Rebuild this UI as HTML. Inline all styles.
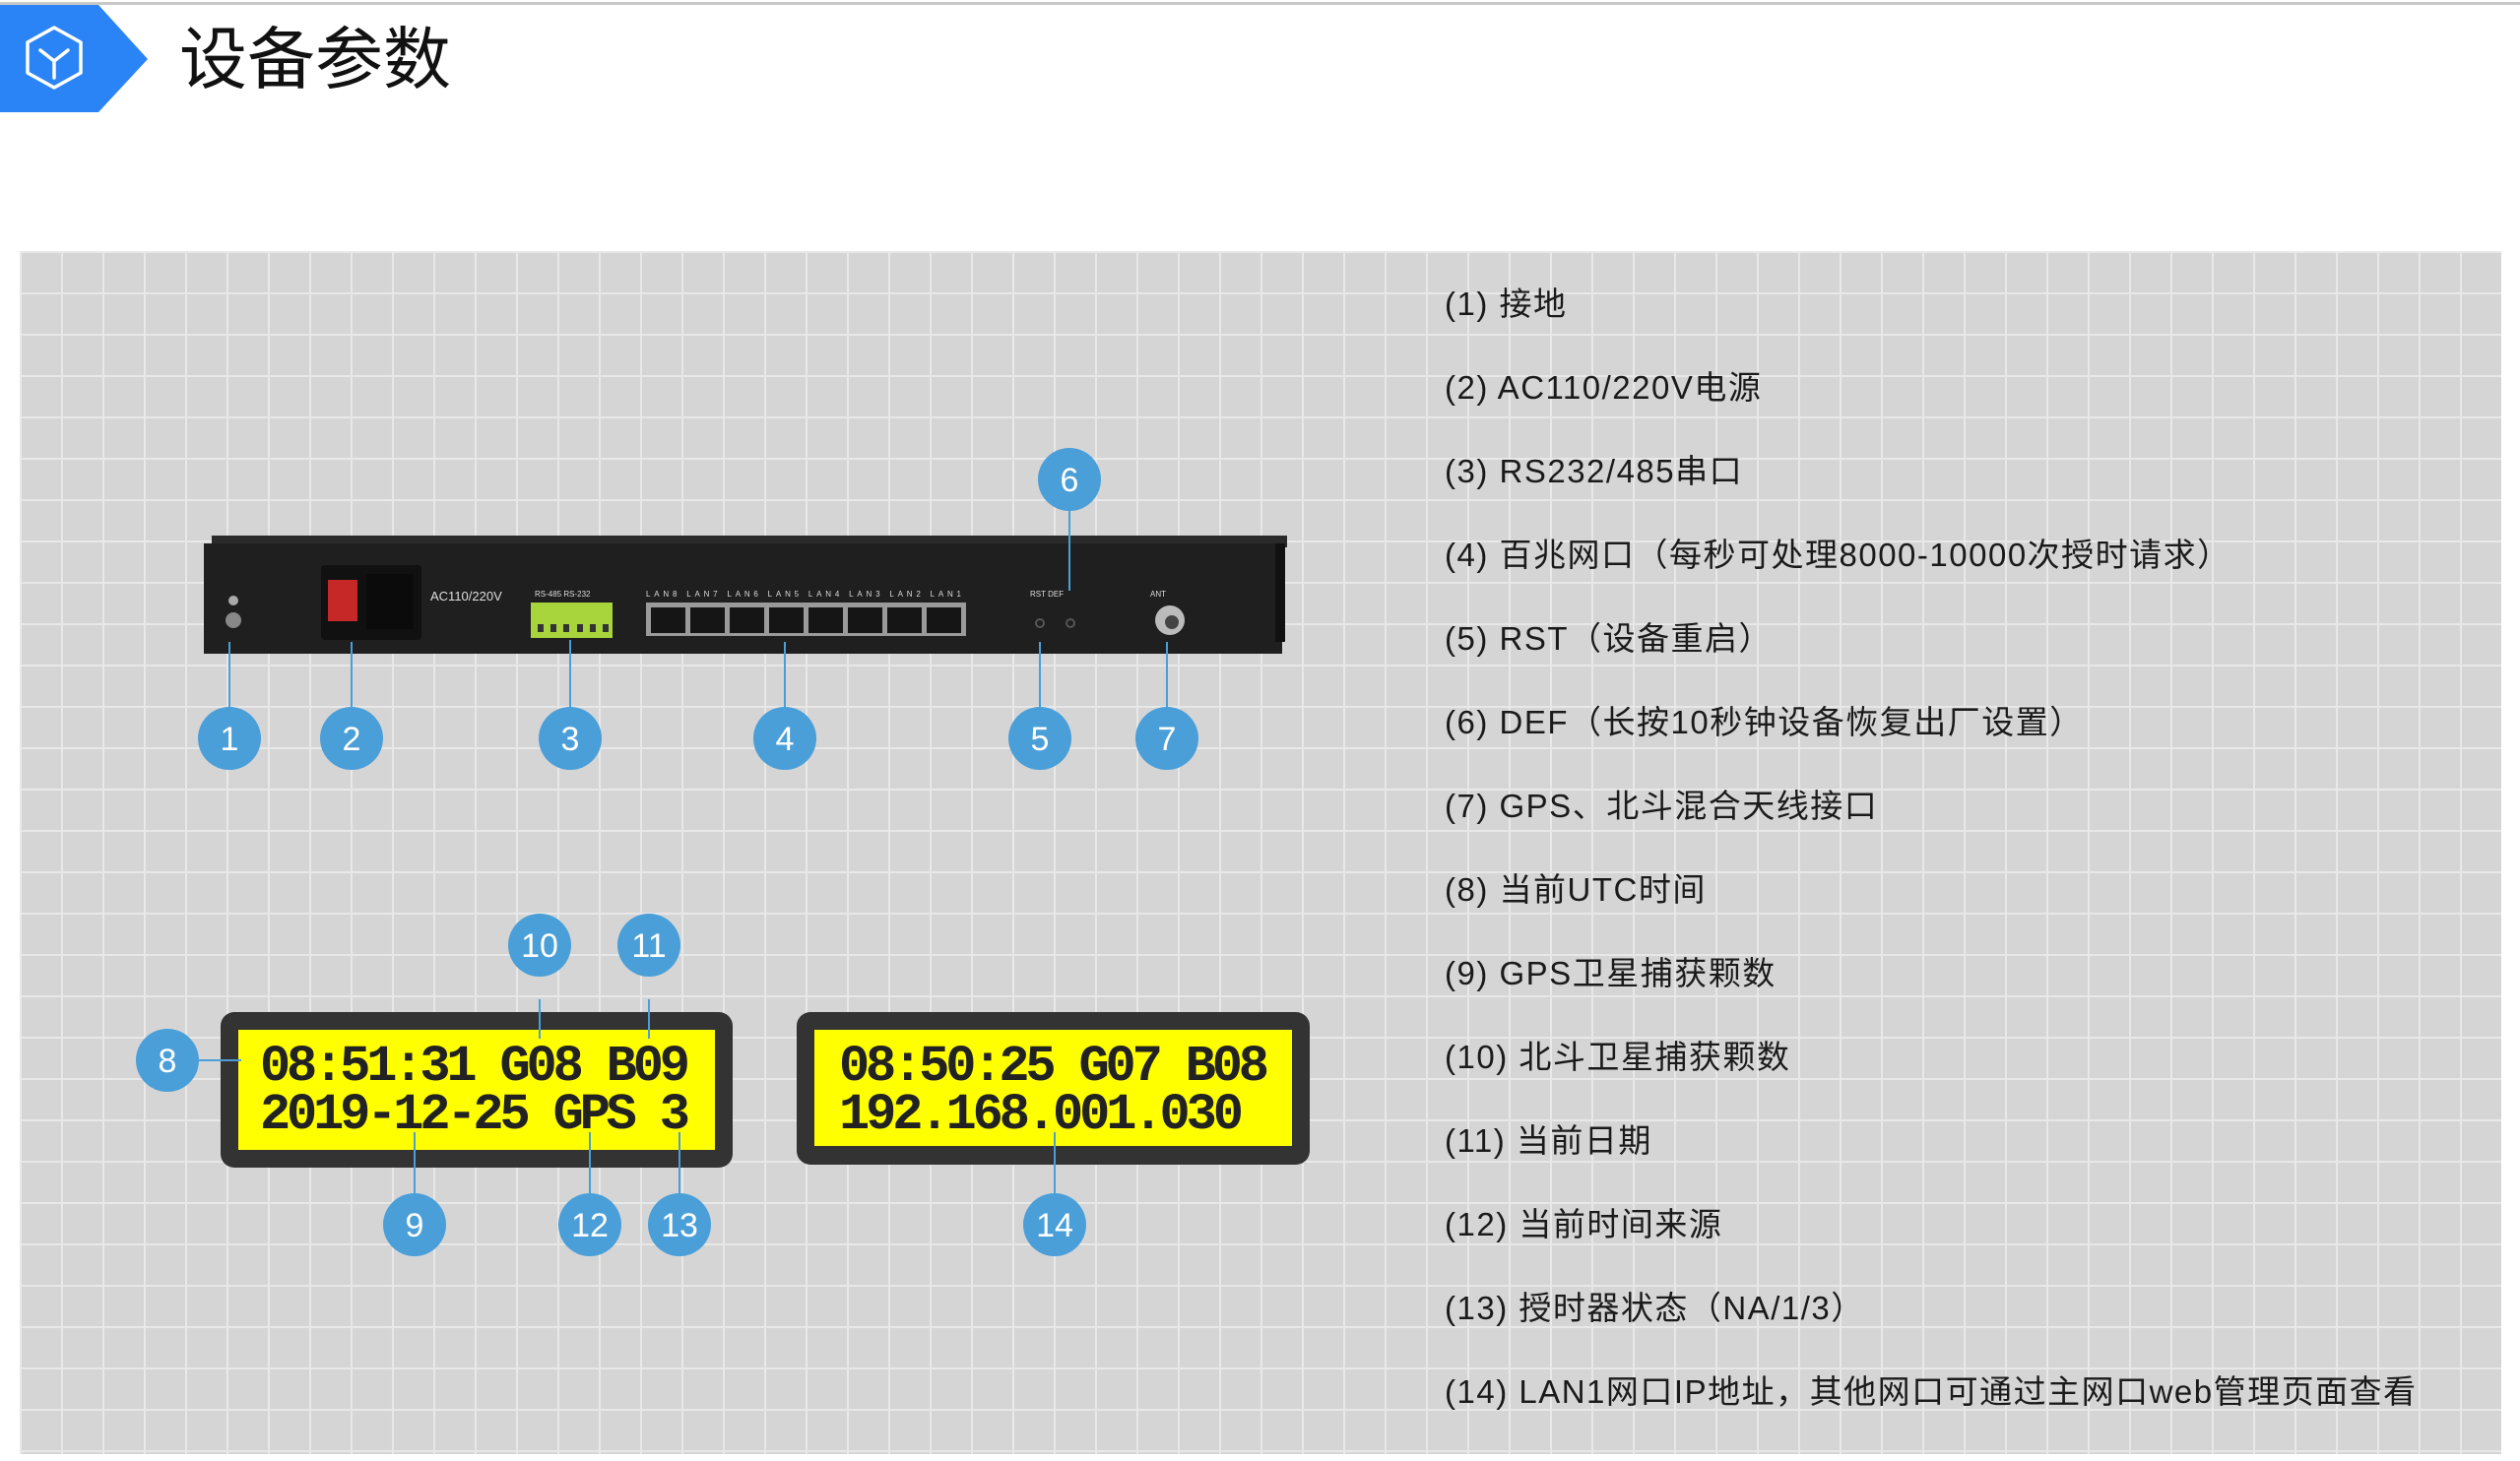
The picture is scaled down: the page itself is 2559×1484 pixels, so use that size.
<!DOCTYPE html>
<html><head><meta charset="utf-8"><style>
html,body{margin:0;padding:0;background:#fff;width:2559px;height:1484px;overflow:hidden}
svg{display:block}
.t{font-family:"Liberation Sans","Noto Sans CJK SC",sans-serif;font-size:33px;fill:#1a1a1a;letter-spacing:1.5px}
.n{font-family:"Liberation Sans",sans-serif;font-size:34px;fill:#fff;text-anchor:middle}
.lcd{font-family:"Liberation Mono","DejaVu Sans Mono",monospace;font-size:52px;fill:#222;letter-spacing:-1px;font-weight:bold}
</style></head><body>
<svg width="2559" height="1484" viewBox="0 0 2559 1484" xmlns="http://www.w3.org/2000/svg">
<defs>
<pattern id="g" x="20" y="255" width="42" height="42" patternUnits="userSpaceOnUse">
<rect width="42" height="42" fill="#d5d5d5"/>
<path d="M0 0.5H42M0.5 0V42" stroke="#e8e8e8" stroke-width="3"/>
</pattern>
</defs>
<rect x="0" y="2" width="2559" height="3" fill="#c8c8c8"/>
<polygon points="0,5 100,5 150,60 100,114 0,114" fill="#2b84f6"/>
<polygon points="55,28 82,43 82,74 55,89 28,74 28,43" fill="none" stroke="#fff" stroke-width="3.5" stroke-linejoin="round"/>
<path d="M41 51 L55 62 L69 51 M55 62 V79" fill="none" stroke="#fff" stroke-width="3.5" stroke-linecap="round"/>
<text x="182" y="84" font-family="Liberation Sans,'Noto Sans CJK SC',sans-serif" font-size="69" fill="#111">设备参数</text>

<rect x="20" y="255" width="2520" height="1222" fill="url(#g)"/>

<!-- device -->
<rect x="215" y="544" width="1092" height="12" fill="#2a2a2a"/>
<rect x="207" y="552" width="1095" height="112" fill="#1f1f1f"/>
<rect x="1295" y="552" width="10" height="100" fill="#111"/>
<circle cx="237" cy="610" r="5" fill="#aaa"/>
<circle cx="237" cy="630" r="8" fill="#888"/>
<rect x="326" y="574" width="102" height="76" rx="4" fill="#111"/>
<rect x="333" y="589" width="30" height="42" fill="#c62828"/>
<rect x="372" y="583" width="48" height="56" fill="#0b0b0b"/>
<text x="437" y="610" font-family="Liberation Sans,sans-serif" font-size="13" fill="#ddd">AC110/220V</text>
<text x="543" y="606" font-family="Liberation Sans,sans-serif" font-size="8" fill="#ddd">RS-485  RS-232</text>
<rect x="539" y="612" width="83" height="36" fill="#a8d43c"/>
<g fill="#333"><rect x="546" y="634" width="6" height="8"/><rect x="559" y="634" width="6" height="8"/><rect x="572" y="634" width="6" height="8"/><rect x="586" y="634" width="6" height="8"/><rect x="599" y="634" width="6" height="8"/><rect x="612" y="634" width="6" height="8"/></g>
<rect x="656" y="612" width="325" height="34" fill="#9a9a9a"/>
<g fill="#151515"><rect x="661" y="617" width="35" height="26"/><rect x="701" y="617" width="35" height="26"/><rect x="741" y="617" width="35" height="26"/><rect x="781" y="617" width="35" height="26"/><rect x="821" y="617" width="35" height="26"/><rect x="861" y="617" width="35" height="26"/><rect x="901" y="617" width="35" height="26"/><rect x="941" y="617" width="35" height="26"/></g>
<text x="656" y="606" font-family="Liberation Sans,sans-serif" font-size="8" fill="#ddd" textLength="320">LAN8    LAN7    LAN6    LAN5    LAN4    LAN3    LAN2    LAN1</text>
<text x="1046" y="606" font-family="Liberation Sans,sans-serif" font-size="8" fill="#ddd">RST   DEF</text>
<circle cx="1056" cy="633" r="4" fill="none" stroke="#555" stroke-width="2"/>
<circle cx="1087" cy="633" r="4" fill="none" stroke="#555" stroke-width="2"/>
<text x="1168" y="606" font-family="Liberation Sans,sans-serif" font-size="8" fill="#ddd">ANT</text>
<circle cx="1188" cy="630" r="15" fill="#bbb"/><circle cx="1190" cy="632" r="7" fill="#444"/>

<!-- LCDs -->
<rect x="224" y="1028" width="520" height="158" rx="14" fill="#333"/>
<rect x="242" y="1046" width="484" height="122" fill="#ffff00"/>
<text class="lcd" x="264" y="1097" textLength="436">08:51:31 G08 B09</text>
<text class="lcd" x="264" y="1146" textLength="436">2019-12-25 GPS 3</text>
<rect x="809" y="1028" width="521" height="155" rx="14" fill="#333"/>
<rect x="827" y="1046" width="485" height="118" fill="#ffff00"/>
<text class="lcd" x="852" y="1097" textLength="436">08:50:25 G07 B08</text>
<text class="lcd" x="852" y="1146" textLength="410">192.168.001.030</text>

<!-- connectors -->
<g stroke="#4a9fd8" stroke-width="2" fill="none">
<path d="M233 652V718M357 652V718M579 650V718M797 652V718M1056 652V718M1185 652V718M1086 519V600"/>
<path d="M548 1015V1055M659 1015V1055M202 1077H245M421 1150V1212M599 1150V1212M690 1150V1212M1071 1150V1212"/>
</g>
<g fill="#4a9fd8">
<circle cx="233" cy="750" r="32"/><circle cx="357" cy="750" r="32"/><circle cx="579" cy="750" r="32"/><circle cx="797" cy="750" r="32"/><circle cx="1056" cy="750" r="32"/><circle cx="1185" cy="750" r="32"/><circle cx="1086" cy="487" r="32"/>
<circle cx="170" cy="1077" r="32"/><circle cx="548" cy="960" r="32"/><circle cx="659" cy="960" r="32"/><circle cx="421" cy="1244" r="32"/><circle cx="599" cy="1244" r="32"/><circle cx="690" cy="1244" r="32"/><circle cx="1071" cy="1244" r="32"/>
</g>
<g class="n">
<text x="233" y="762">1</text><text x="357" y="762">2</text><text x="579" y="762">3</text><text x="797" y="762">4</text><text x="1056" y="762">5</text><text x="1185" y="762">7</text><text x="1086" y="499">6</text>
<text x="170" y="1089">8</text><text x="548" y="972">10</text><text x="659" y="972">11</text><text x="421" y="1256">9</text><text x="599" y="1256">12</text><text x="690" y="1256">13</text><text x="1071" y="1256">14</text>
</g>

<!-- legend -->
<g class="t">
<text x="1467" y="320">(1) 接地</text>
<text x="1467" y="405">(2) AC110/220V电源</text>
<text x="1467" y="490">(3) RS232/485串口</text>
<text x="1467" y="575">(4) 百兆网口（每秒可处理8000-10000次授时请求）</text>
<text x="1467" y="660">(5) RST（设备重启）</text>
<text x="1467" y="745">(6) DEF（长按10秒钟设备恢复出厂设置）</text>
<text x="1467" y="830">(7) GPS、北斗混合天线接口</text>
<text x="1467" y="915">(8) 当前UTC时间</text>
<text x="1467" y="1000">(9) GPS卫星捕获颗数</text>
<text x="1467" y="1085">(10) 北斗卫星捕获颗数</text>
<text x="1467" y="1170">(11) 当前日期</text>
<text x="1467" y="1255">(12) 当前时间来源</text>
<text x="1467" y="1340">(13) 授时器状态（NA/1/3）</text>
<text x="1467" y="1425">(14) LAN1网口IP地址，其他网口可通过主网口web管理页面查看</text>
</g>
</svg>
</body></html>
